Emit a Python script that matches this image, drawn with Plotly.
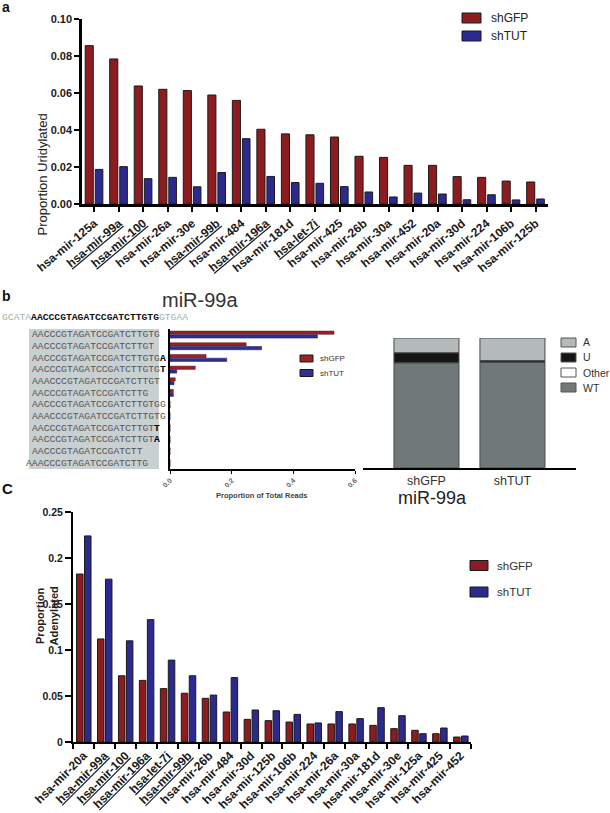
import plotly.graph_objects as go

W, H = 610, 813
def X(px): return px / W
def Y(py): return 1 - py / H

RED = "#8c1c20"
BLUE = "#2c2a8e"
EDGE = "#1a1a1a"
SANS = "Liberation Sans, Arial, sans-serif"
MONO = "Liberation Mono, Courier New, monospace"

# ---------------- Panel a data ----------------
a_mirs = ["hsa-mir-125a", "hsa-mir-99a", "hsa-mir-100", "hsa-mir-26a", "hsa-mir-30e",
          "hsa-mir-99b", "hsa-mir-484", "hsa-mir-196a", "hsa-mir-181d", "hsa-let-7i",
          "hsa-mir-425", "hsa-mir-26b", "hsa-mir-30a", "hsa-mir-452", "hsa-mir-20a",
          "hsa-mir-30d", "hsa-mir-224", "hsa-mir-106b", "hsa-mir-125b"]
a_shGFP = [0.0856, 0.0784, 0.0638, 0.0620, 0.0613, 0.0589, 0.0560, 0.0404, 0.0379, 0.0374,
           0.0362, 0.0258, 0.0252, 0.0209, 0.0209, 0.0148, 0.0144, 0.0124, 0.0119]
a_shTUT = [0.0187, 0.0202, 0.0137, 0.0144, 0.0093, 0.0170, 0.0353, 0.0149, 0.0116, 0.0112,
           0.0094, 0.0065, 0.0038, 0.0059, 0.0054, 0.0023, 0.0050, 0.0022, 0.0027]
a_yticks = [0.0, 0.02, 0.04, 0.06, 0.08, 0.10]
a_underlined = {"hsa-mir-99a", "hsa-mir-100", "hsa-mir-99b", "hsa-mir-196a", "hsa-let-7i"}

# ---------------- Panel b data ----------------
b_title = "miR-99a"
b_flank5 = "GCATA"
b_mature = "AACCCGTAGATCCGATCTTGTG"
b_flank3 = "GTGAA"
b_reads = ["AACCCGTAGATCCGATCTTGTG", "AACCCGTAGATCCGATCTTGT", "AACCCGTAGATCCGATCTTGTG",
           "AACCCGTAGATCCGATCTTGTG", "AAACCCGTAGATCCGATCTTGT", "AACCCGTAGATCCGATCTTG",
           "AACCCGTAGATCCGATCTTGTGG", "AAACCCGTAGATCCGATCTTGTG", "AACCCGTAGATCCGATCTTGT",
           "AACCCGTAGATCCGATCTTGT", "AACCCGTAGATCCGATCTT", "AAACCCGTAGATCCGATCTTG"]
b_tails = ["", "", "A", "T", "", "", "", "", "T", "A", "", ""]
b_shGFP = [0.532, 0.247, 0.117, 0.082, 0.017, 0.011, 0, 0, 0, 0, 0, 0]
b_shTUT = [0.478, 0.297, 0.184, 0.022, 0.013, 0.011, 0, 0, 0, 0, 0, 0]
b_xticks = [0.0, 0.2, 0.4, 0.6]

comp_groups = ["shGFP", "shTUT"]
comp_names = ["WT", "Other", "U", "A"]          # bottom -> top
comp_values = {"WT": [0.810, 0.815], "Other": [0.0, 0.0],
               "U": [0.077, 0.012], "A": [0.113, 0.173]}
comp_colors = {"WT": "#6e7978", "Other": "#ffffff", "U": "#151515", "A": "#b4baba"}

# ---------------- Panel c data ----------------
c_mirs = ["hsa-mir-20a", "hsa-mir-99a", "hsa-mir-100", "hsa-mir-196a", "hsa-let-7i",
          "hsa-mir-99b", "hsa-mir-26b", "hsa-mir-484", "hsa-mir-30d", "hsa-mir-125b",
          "hsa-mir-106b", "hsa-mir-224", "hsa-mir-26a", "hsa-mir-30a", "hsa-mir-181d",
          "hsa-mir-30e", "hsa-mir-125a", "hsa-mir-425", "hsa-mir-452"]
c_shGFP = [0.1826, 0.112, 0.072, 0.067, 0.058, 0.053, 0.0475, 0.0326, 0.0246, 0.0232,
           0.0217, 0.0196, 0.0196, 0.0196, 0.0181, 0.0145, 0.0127, 0.0090, 0.0054]
c_shTUT = [0.224, 0.177, 0.110, 0.133, 0.089, 0.072, 0.051, 0.070, 0.0348, 0.0340,
           0.0300, 0.0207, 0.0330, 0.0254, 0.0373, 0.0286, 0.0090, 0.0152, 0.0065]
c_yticks = [0, 0.05, 0.1, 0.15, 0.2, 0.25]
c_underlined = {"hsa-mir-99a", "hsa-mir-100", "hsa-mir-196a", "hsa-let-7i", "hsa-mir-99b"}

series_names = ["shGFP", "shTUT"]


def ul(name, under, thick=1):
    if name in under:
        return ('<span style="text-decoration:underline;text-decoration-thickness:%dpx">%s</span>'
                % (thick, name))
    return name


fig = go.Figure()

# ---- Panel a bars
fig.add_trace(go.Bar(x=a_mirs, y=a_shGFP, name=series_names[0], xaxis="x", yaxis="y",
                     offset=-0.37, width=0.33, marker=dict(color=RED, line=dict(color=EDGE, width=1))))
fig.add_trace(go.Bar(x=a_mirs, y=a_shTUT, name=series_names[1], xaxis="x", yaxis="y",
                     offset=0.04, width=0.31, marker=dict(color=BLUE, line=dict(color=EDGE, width=1))))

# ---- Panel b horizontal bars
rows = list(range(len(b_reads)))
fig.add_trace(go.Bar(y=rows, x=b_shGFP, orientation="h", xaxis="x2", yaxis="y2",
                     offset=-0.32, width=0.28, marker=dict(color="#9a2226", line=dict(color="#5a1010", width=0.5))))
fig.add_trace(go.Bar(y=rows, x=b_shTUT, orientation="h", xaxis="x2", yaxis="y2",
                     offset=0.0, width=0.28, marker=dict(color="#2f2f96", line=dict(color="#15154a", width=0.5))))

# ---- Panel b stacked composition
base = [0.0] * len(comp_groups)
for nm in comp_names:
    vals = comp_values[nm]
    fig.add_trace(go.Bar(x=list(range(len(comp_groups))), y=vals, base=list(base), name=nm,
                         xaxis="x3", yaxis="y3", width=0.756, offset=-0.378,
                         marker=dict(color=comp_colors[nm], line=dict(color="#4a4a4a", width=1))))
    base = [b + v for b, v in zip(base, vals)]

# ---- Panel c bars
fig.add_trace(go.Bar(x=c_mirs, y=c_shGFP, xaxis="x4", yaxis="y4", offset=-0.33, width=0.31,
                     marker=dict(color=RED, line=dict(color=EDGE, width=1))))
fig.add_trace(go.Bar(x=c_mirs, y=c_shTUT, xaxis="x4", yaxis="y4", offset=0.05, width=0.31,
                     marker=dict(color=BLUE, line=dict(color=EDGE, width=1))))

tickfont_bold = dict(family=SANS, size=12, color="#1a1a1a", weight="bold")

fig.update_layout(
    width=W, height=H, margin=dict(l=0, r=0, t=0, b=0, pad=0), autosize=False,
    paper_bgcolor="white", plot_bgcolor="white",
    barmode="overlay", showlegend=False, hovermode=False,
    font=dict(family=SANS, color="#222"),
    # panel a
    xaxis=dict(domain=[X(82), X(548)], anchor="y", type="category", range=[-0.5, len(a_mirs) - 0.5],
               tickmode="array", tickvals=a_mirs, ticktext=[ul(m, a_underlined) for m in a_mirs],
               tickangle=-40, tickfont=tickfont_bold, showline=True, linecolor="black", linewidth=2.5,
               ticks="outside", ticklen=5, tickwidth=2, tickcolor="black", showgrid=False, zeroline=False,
               automargin=False),
    yaxis=dict(domain=[Y(204), Y(19)], anchor="x", range=[0, 0.10], tickvals=a_yticks, tickformat=".2f",
               tickfont=dict(family=SANS, size=11, color="#1a1a1a", weight="bold"), showline=True,
               linecolor="black", linewidth=2.5, ticks="outside",
               ticklen=5, tickwidth=2, tickcolor="black", showgrid=False, zeroline=False, automargin=False),
    # panel b reads
    xaxis2=dict(domain=[X(170), X(355)], anchor="y2", range=[0, 0.6], tickvals=b_xticks, tickformat=".1f",
                tickangle=-45, tickfont=dict(family=SANS, size=7, color="#666", weight="bold"),
                showline=True, linecolor="black", linewidth=1.5, ticks="outside", ticklen=3, tickwidth=1,
                tickcolor="black", showgrid=False, zeroline=False, automargin=False),
    yaxis2=dict(domain=[Y(469), Y(329)], anchor="x2", range=[len(b_reads) - 0.5, -0.5],
                showticklabels=False, ticks="", showline=True, linecolor="black", linewidth=2,
                showgrid=False, zeroline=False, automargin=False),
    # panel b composition
    xaxis3=dict(domain=[X(363), X(576)], anchor="y3", range=[-0.738, 1.739], tickvals=[0, 1],
                ticktext=comp_groups, tickfont=dict(family=SANS, size=12.5, color="#333"), ticks="",
                showline=True, linecolor="black", linewidth=2, showgrid=False, zeroline=False,
                automargin=False),
    yaxis3=dict(domain=[Y(468), Y(338)], anchor="x3", range=[0, 1], visible=False, automargin=False),
    # panel c
    xaxis4=dict(domain=[X(73), X(471)], anchor="y4", type="category", range=[-0.5, len(c_mirs) - 0.5],
                tickmode="array", tickvals=c_mirs, ticktext=[ul(m, c_underlined, 2) for m in c_mirs],
                tickson="boundaries", tickangle=-45, tickfont=tickfont_bold, showline=True,
                linecolor="black", linewidth=2, ticks="outside", ticklen=5, tickwidth=1.5,
                tickcolor="black", showgrid=False, zeroline=False, automargin=False),
    yaxis4=dict(domain=[Y(742), Y(512)], anchor="x4", range=[0, 0.25], tickvals=c_yticks,
                tickfont=dict(family=SANS, size=10.5, color="#1a1a1a", weight="bold"), showline=True,
                linecolor="black", linewidth=2, ticks="outside", ticklen=6, tickwidth=1.5,
                tickcolor="black", showgrid=False, zeroline=False, automargin=False),
)

ann = []
shapes = []

# panel letters
ann.append(dict(text="<b>a</b>", x=X(0), y=Y(7), xref="paper", yref="paper", xanchor="left",
                yanchor="middle", showarrow=False, font=dict(family=SANS, size=14, color="#111")))
ann.append(dict(text="<b>b</b>", x=X(0), y=Y(296), xref="paper", yref="paper", xanchor="left",
                yanchor="middle", showarrow=False, font=dict(family=SANS, size=14, color="#111")))
ann.append(dict(text="<b>C</b>", x=X(0), y=Y(489), xref="paper", yref="paper", xanchor="left",
                yanchor="middle", showarrow=False, font=dict(family=SANS, size=15, color="#111")))

# axis titles
ann.append(dict(text="Proportion Uridylated", x=X(32.5), y=Y(111.5), xref="paper", yref="paper",
                textangle=-90, showarrow=False, font=dict(family=SANS, size=13, color="#222")))
ann.append(dict(text="<b>Proportion<br>Adenylated</b>", x=X(31), y=Y(648), xref="paper", yref="paper",
                textangle=-90, showarrow=False, font=dict(family=SANS, size=11, color="#222")))
ann.append(dict(text="<b>Proportion of Total Reads</b>", x=X(262), y=Y(496), xref="paper", yref="paper",
                showarrow=False, font=dict(family=SANS, size=7.5, color="#444")))


def legend(entries, x0, w, ys, h, tx, size, col):
    for (label, color), yc in zip(entries, ys):
        shapes.append(dict(type="rect", xref="paper", yref="paper", x0=X(x0), x1=X(x0 + w),
                           y0=Y(yc - h / 2), y1=Y(yc + h / 2), fillcolor=color,
                           line=dict(color=EDGE, width=1)))
        ann.append(dict(text=label, x=X(tx), y=Y(yc), xref="paper", yref="paper", xanchor="left",
                        yanchor="middle", showarrow=False, font=dict(family=SANS, size=size, color=col)))


legend(list(zip(series_names, [RED, BLUE])), 462, 19, [18, 36], 10, 489, 12, "#222")
legend(list(zip(series_names, ["#9a2226", "#2f2f96"])), 300, 13, [358.5, 373], 7, 318, 8, "#333")
legend(list(zip(series_names, [RED, BLUE])), 470, 18, [565.5, 592], 10, 495, 11.5, "#333")

# composition legend (top -> bottom: A, U, Other, WT)
for nm, yc in zip(comp_names[::-1], [342.5, 357.5, 372.5, 387.5]):
    shapes.append(dict(type="rect", xref="paper", yref="paper", x0=X(561), x1=X(576),
                       y0=Y(yc - 4.5), y1=Y(yc + 4.5), fillcolor=comp_colors[nm],
                       line=dict(color="#555", width=1)))
    ann.append(dict(text=nm, x=X(581), y=Y(yc), xref="paper", yref="paper", xanchor="left",
                    yanchor="middle", showarrow=False, font=dict(family=SANS, size=10.5, color="#333")))

# miR-99a titles
ann.append(dict(text=b_title, x=X(160), y=Y(300), xref="paper", yref="paper", showarrow=False,
                font=dict(family=SANS, size=20, color="#333")))
ann.append(dict(text=b_title, x=X(469), y=Y(498), xref="paper", yref="paper", showarrow=False,
                font=dict(family=SANS, size=18, color="#222")))

# precursor sequence line
ann.append(dict(text='<span style="color:#9fb1ae">%s</span><b>%s</b><span style="color:#9fb1ae">%s</span>'
                % (b_flank5, b_mature, b_flank3),
                x=X(0), y=Y(317), xref="paper", yref="paper", xanchor="left", yanchor="middle",
                showarrow=False, font=dict(family=MONO, size=9.7, color="#111")))

# gray box behind reads
shapes.append(dict(type="rect", xref="paper", yref="paper", x0=X(29), x1=X(159), y0=Y(469), y1=Y(329),
                   fillcolor="#c9d0d2", line=dict(width=0), layer="below"))

char_w = 9.7 * 0.6
for i, (seq, tail) in enumerate(zip(b_reads, b_tails)):
    shift = -char_w if i == len(b_reads) - 1 else 0
    txt = '<span style="color:#555">%s</span>' % seq
    if tail:
        txt += '<span style="color:#000;font-weight:bold">%s</span>' % tail
    ann.append(dict(text=txt, x=X(30 + shift), y=i, xref="paper", yref="y2", xanchor="left",
                    yanchor="middle", showarrow=False, font=dict(family=MONO, size=9.7, color="#555")))

fig.update_layout(annotations=ann, shapes=shapes)
fig.write_html("out.html", config={"displayModeBar": False},
               post_script="document.body.style.margin='0';")
